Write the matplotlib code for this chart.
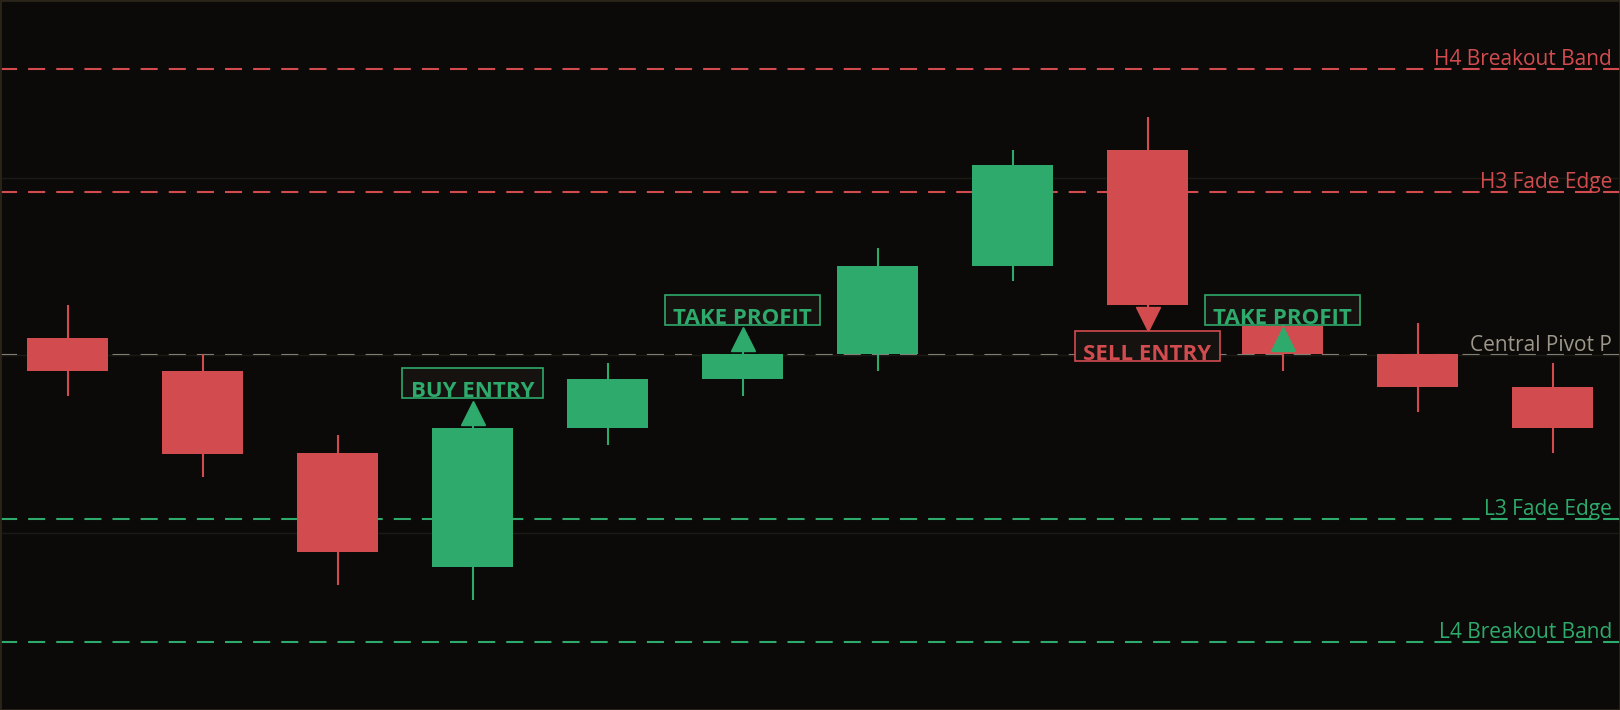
import numpy as np
import matplotlib.pyplot as plt
from matplotlib.patches import Rectangle

# ================= DATA =================
opens  = [100.96, 99.10, 94.50, 88.03, 95.90, 98.63, 100.03, 105.04, 111.56, 101.66, 100.03, 98.17]
highs  = [102.82, 100.03, 95.49, 96.30, 99.56, 100.30, 106.03, 111.56, 113.42, 101.90, 101.83, 99.56]
lows   = [97.70, 93.10, 87.07, 86.17, 94.91, 97.70, 99.10, 104.16, 102.50, 99.10, 96.77, 94.50]
closes = [99.10, 94.44, 88.91, 95.90, 98.63, 100.03, 105.04, 110.68, 102.82, 100.03, 98.17, 95.90]

level_names  = ["H4 Breakout Band", "H3 Fade Edge", "Central Pivot P", "L3 Fade Edge", "L4 Breakout Band"]
level_values = [116.11, 109.18, 100.0, 90.76, 83.83]
level_kinds  = ["res", "res", "pivot", "sup", "sup"]

signal_bars   = [3, 5, 8, 9]
signal_labels = ["BUY ENTRY", "TAKE PROFIT", "SELL ENTRY", "TAKE PROFIT"]
signal_sides  = ["long", "long", "short", "long"]

# ================= STYLE =================
BG = '#0b0a08'
RED = '#d24c4f'
GREEN = '#2eaa6c'
GREY = '#9d978a'
BOXBG = '#15120f'
colors = {"res": RED, "pivot": GREY, "sup": GREEN}
side_col = {"long": GREEN, "short": RED}

plt.rcParams['font.family'] = ['Open Sans', 'DejaVu Sans']

fig = plt.figure(figsize=(16.2, 7.1), dpi=100, facecolor=BG)
ax = fig.add_axes([0, 0, 1, 1])
ax.set_facecolor(BG)

x = np.arange(len(opens))
o = np.array(opens); c = np.array(closes)
up = c >= o
cc = np.where(up, GREEN, RED)

# wicks then bodies
ax.vlines(x, lows, highs, colors=cc, linewidth=1.5, zorder=2)
ax.bar(x, np.abs(c - o), bottom=np.minimum(o, c), width=0.6, color=cc, zorder=3)

# ================= LEVELS =================
lw = 1.5
for name, val, kind in zip(level_names, level_values, level_kinds):
    col = colors[kind]
    ax.axhline(val, color=col, linewidth=lw, linestyle=(0, (8.2, 5.3)), zorder=1)
    ax.annotate(name, xy=(1, val), xycoords=('axes fraction', 'data'),
                xytext=(-8, 4), textcoords='offset pixels',
                ha='right', va='baseline', color=col, fontsize=15, zorder=6)

# ================= SIGNALS =================
texts = []
for i, lab, side in zip(signal_bars, signal_labels, signal_sides):
    col = side_col[side]
    if side == "long":
        ax.plot(i, closes[i] + 0.85, marker='^', ms=17, color=col, ls='none', zorder=5)
        ty = closes[i] + 1.74
    else:
        ax.plot(i, closes[i] - 0.8, marker='v', ms=17, color=col, ls='none', zorder=5)
        ty = closes[i] - 3.1
    t = ax.text(i, ty, lab, ha='center', va='baseline', color=col,
                fontsize=16, fontweight='bold', zorder=8)
    texts.append((t, i, ty, col))

ax.set_xlim(-0.5, 11.5)
ax.set_ylim(80, 120)
ax.set_yticks([90, 100, 110])
ax.set_xticks([])
ax.tick_params(left=False, labelleft=False)
ax.grid(axis='y', color='#1c1a16', linewidth=1, zorder=0)
for s in ax.spines.values():
    s.set_color('#2b2519')
    s.set_linewidth(2)

# boxes around signal labels
fig.canvas.draw()
inv = ax.transData.inverted()
for t, i, ty, col in texts:
    bb = t.get_window_extent()
    base = ax.transData.transform((i, ty))[1]
    x0, y0 = inv.transform((bb.x0 - 8.5, base - 1))
    x1, y1 = inv.transform((bb.x1 + 8.5, base + 29))
    ax.add_patch(Rectangle((x0, y0), x1 - x0, y1 - y0, facecolor=BOXBG,
                           edgecolor=col, linewidth=1.2, zorder=7))

fig.savefig('out.png', dpi=100, facecolor=BG)
